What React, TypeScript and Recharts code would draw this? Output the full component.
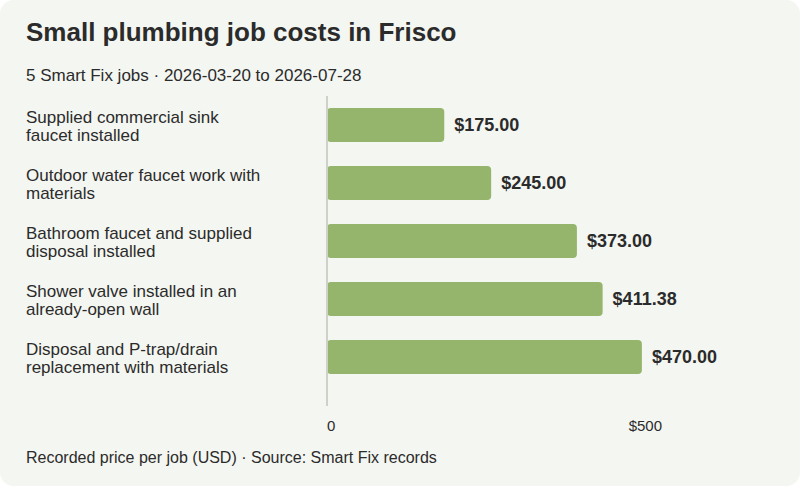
import { BarChart, Bar, XAxis, YAxis, LabelList, ReferenceLine } from "recharts";

const categories = [
  "Supplied commercial sink faucet installed",
  "Outdoor water faucet work with materials",
  "Bathroom faucet and supplied disposal installed",
  "Shower valve installed in an already-open wall",
  "Disposal and P-trap/drain replacement with materials",
];
const prices = [175, 245, 373, 411.38, 470];
const xTicks = [0, 500];

const data = categories.map((job, i) => ({ job, price: prices[i] }));

const TEXT = "#2b2b2b";
const FONT = "'Liberation Sans', Arial, Helvetica, sans-serif";

function wrap(label: string, max = 30) {
  const lines: string[] = [];
  let cur = "";
  for (const w of label.split(" ")) {
    const next = cur ? cur + " " + w : w;
    if (next.length > max && cur) {
      lines.push(cur);
      cur = w;
    } else cur = next;
  }
  if (cur) lines.push(cur);
  return lines;
}

function JobTick(props: any) {
  const { y, payload } = props;
  const lines = wrap(payload.value);
  const start = y - 2.5 - ((lines.length - 1) * 18.3) / 2 + 9.15;
  return (
    <text x={26} y={start} fill={TEXT} fontSize={17} fontFamily={FONT}>
      {lines.map((l, i) => (
        <tspan key={i} x={26} y={start + i * 18.3}>
          {l}
        </tspan>
      ))}
    </text>
  );
}

function PriceTick(props: any) {
  const { x, payload, index } = props;
  const v = payload.value;
  return (
    <text
      x={x}
      y={431}
      textAnchor={index === 0 ? "start" : "end"}
      fill={TEXT}
      fontSize={15}
      fontFamily={FONT}
    >
      {v === 0 ? "0" : `$${v}`}
    </text>
  );
}

export default function App() {
  return (
    <div
      style={{
        position: "absolute",
        left: 0,
        top: 0,
        width: 800,
        height: 486,
        background: "#fff",
      }}
    >
      <div
        style={{
          position: "relative",
          width: 800,
          height: 486,
          background: "#f4f6f1",
          borderRadius: 14,
          fontFamily: FONT,
          color: TEXT,
          overflow: "hidden",
        }}
      >
        <div
          style={{
            position: "absolute",
            left: 26,
            top: 19,
            fontSize: 26,
            lineHeight: "26px",
            fontWeight: 700,
            whiteSpace: "nowrap",
          }}
        >
          Small plumbing job costs in Frisco
        </div>
        <div
          style={{
            position: "absolute",
            left: 26,
            top: 67,
            fontSize: 17,
            lineHeight: "17px",
            whiteSpace: "nowrap",
          }}
        >
          5 Smart Fix jobs · 2026-03-20 to 2026-07-28
        </div>
        <div style={{ position: "absolute", left: 0, top: 0 }}>
          <BarChart
            width={800}
            height={486}
            data={data}
            layout="vertical"
            margin={{ top: 96, right: 138, bottom: 50, left: 0 }}
          >
            <XAxis
              type="number"
              domain={[0, 500]}
              ticks={xTicks}
              axisLine={false}
              tickLine={false}
              height={30}
              tick={<PriceTick />}
            />
            <YAxis
              type="category"
              dataKey="job"
              width={327}
              axisLine={false}
              tickLine={false}
              padding={{ top: 0, bottom: 20 }}
              tick={<JobTick />}
            />
            <ReferenceLine x={0} stroke="#cfd1c9" strokeWidth={2} />
            <Bar
              dataKey="price"
              fill="#94b56b"
              barSize={34}
              radius={4}
              isAnimationActive={false}
            >
              <LabelList
                dataKey="price"
                position="right"
                offset={10}
                fill={TEXT}
                fontSize={18}
                fontWeight={700}
                fontFamily={FONT}
                formatter={(v: any) => `$${Number(v).toFixed(2)}`}
              />
            </Bar>
          </BarChart>
        </div>
        <div
          style={{
            position: "absolute",
            left: 26,
            top: 450,
            fontSize: 16,
            lineHeight: "16px",
            whiteSpace: "nowrap",
          }}
        >
          Recorded price per job (USD) · Source: Smart Fix records
        </div>
      </div>
    </div>
  );
}
